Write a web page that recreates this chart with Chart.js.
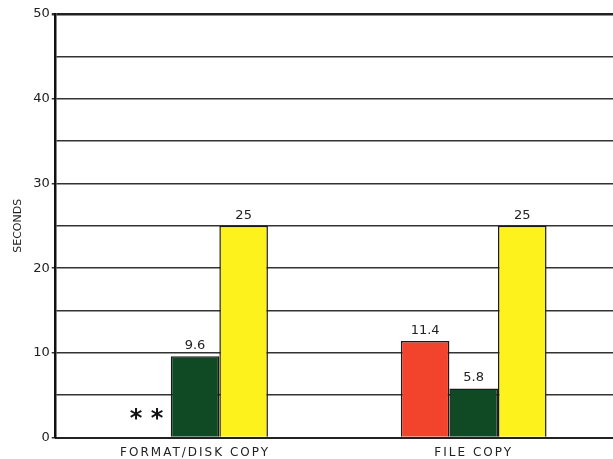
<!DOCTYPE html>
<html lang="en">
<head>
<meta charset="UTF-8" />
<title>seconds</title>
<script src="https://cdn.jsdelivr.net/npm/chart.js"></script>
<style>
  html, body { margin: 0; padding: 0; background: #fff; }
  #wrap { width: 613px; height: 459px; }
</style>
</head>
<body>
<div id="wrap"><canvas id="chart" width="613" height="459"></canvas></div>
<script>
  // data
  const categories = ['FORMAT/DISK COPY', 'FILE COPY'];
  const redValues = [null, 11.4];
  const greenValues = [9.6, 5.8];
  const yellowValues = [25, 25];
  // what is printed above each bar ('**' where there is no bar)
  const redLabels = ['**', '11.4'];
  const greenLabels = ['9.6', '5.8'];
  const yellowLabels = ['25', '25'];
  const yTicks = [0, 10, 20, 30, 40, 50];

  const barLabels = {
    id: 'barLabels',
    afterDatasetsDraw(chart) {
      const ctx = chart.ctx;
      const y0 = chart.scales.y.getPixelForValue(0);
      ctx.save();
      ctx.textAlign = 'center';
      ctx.textBaseline = 'bottom';
      chart.data.datasets.forEach((ds, i) => {
        const meta = chart.getDatasetMeta(i);
        meta.data.forEach((bar, j) => {
          const txt = ds.labels[j];
          if (!txt) return;
          if (ds.data[j] == null) {
            ctx.font = 'bold 24px "DejaVu Sans"';
            ctx.fillStyle = '#111';
            ctx.fillText('* *', bar.x, y0 - 6);
          } else {
            ctx.font = '13px "DejaVu Sans"';
            ctx.fillStyle = '#222';
            ctx.fillText(txt, bar.x, bar.y - 4);
          }
        });
      });
      ctx.restore();
    }
  };

  // the category names are printed with wide letter spacing
  function spreadLabels(scale) {
    if (scale._spread) return;
    scale._spread = true;
    const orig = scale.drawLabels.bind(scale);
    scale.drawLabels = function (area) {
      const ctx = this.ctx;
      ctx.save();
      ctx.letterSpacing = '2px';
      orig(area);
      ctx.restore();
    };
  }

  const common = { borderColor: '#1a1a1a', borderWidth: 1.5, barPercentage: 1.0, categoryPercentage: 0.523 };

  new Chart(document.getElementById('chart'), {
    type: 'bar',
    data: {
      labels: categories,
      datasets: [
        Object.assign({ label: 'red', data: redValues, labels: redLabels, backgroundColor: '#f2442c' }, common),
        Object.assign({ label: 'green', data: greenValues, labels: greenLabels, backgroundColor: '#0f4a24' }, common),
        Object.assign({ label: 'yellow', data: yellowValues, labels: yellowLabels, backgroundColor: '#fdf21c' }, common)
      ]
    },
    options: {
      responsive: false,
      animation: false,
      layout: { padding: { top: 14, right: 0, left: 6, bottom: -1 } },
      plugins: { legend: { display: false }, tooltip: { enabled: false } },
      scales: {
        x: {
          afterUpdate: spreadLabels,
          grid: { display: false },
          border: { color: '#222', width: 2 },
          ticks: { color: '#222', font: { family: 'DejaVu Sans', size: 12 }, padding: 0 }
        },
        y: {
          min: 0, max: 50,
          afterBuildTicks(scale) {
            const t = [];
            for (let v = 0; v <= 50; v += 5) t.push({ value: v });
            scale.ticks = t;
          },
          ticks: {
            color: '#222',
            font: { family: 'DejaVu Sans', size: 13 },
            padding: 2,
            callback: v => yTicks.includes(v) ? String(v) : ''
          },
          grid: {
            color: ctx => ctx.tick && ctx.tick.value === 50 ? '#222' : '#333',
            lineWidth: ctx => ctx.tick && ctx.tick.value === 50 ? 2.5 : 1.5,
            tickColor: ctx => ctx.tick && yTicks.includes(ctx.tick.value) ? '#333' : 'rgba(0,0,0,0)',
            tickLength: 4
          },
          border: { color: '#111', width: 2.5 },
          title: { display: true, text: 'SECONDS', color: '#222', font: { family: 'DejaVu Sans', size: 11 }, padding: 6 }
        }
      }
    },
    plugins: [barLabels]
  });
</script>
</body>
</html>
